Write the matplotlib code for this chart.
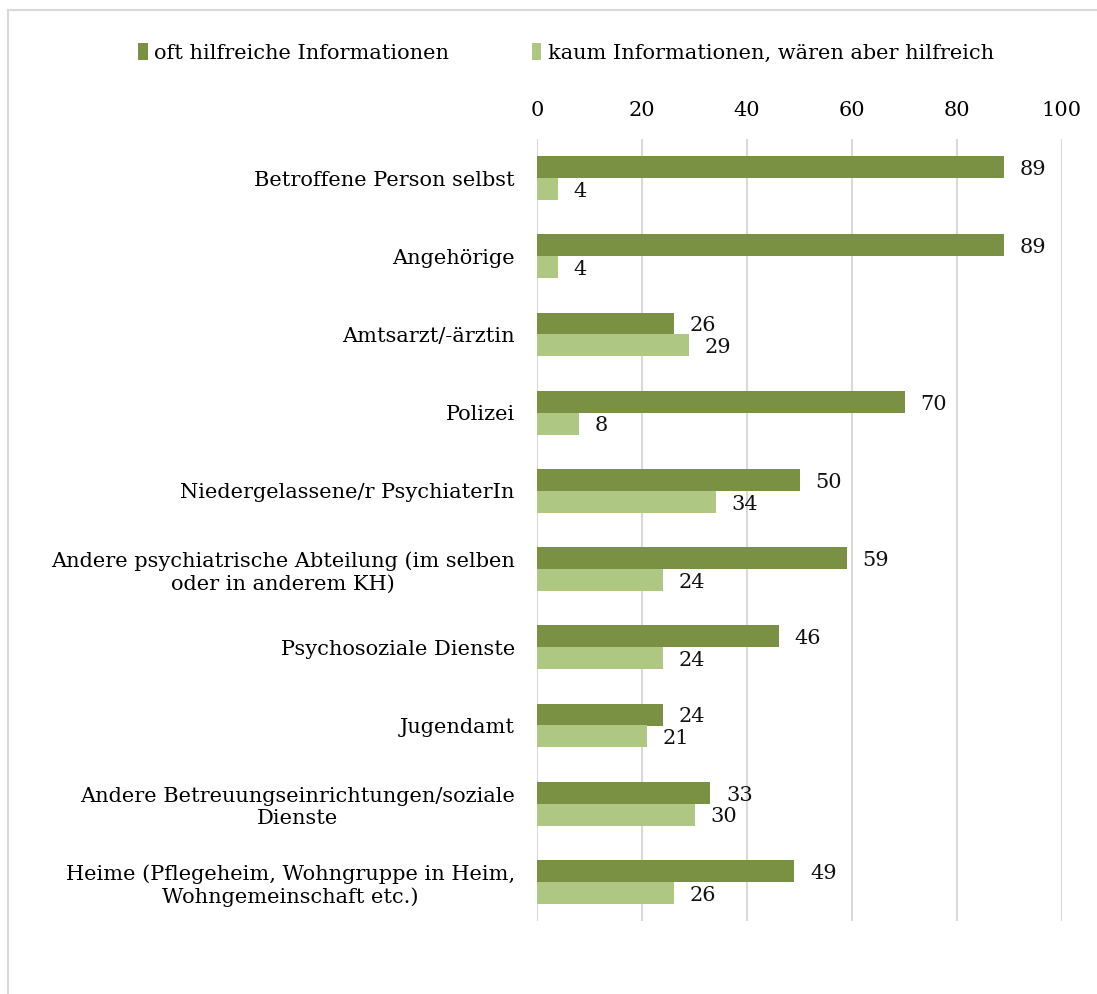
import matplotlib.pyplot as plt
from matplotlib.patches import Rectangle
import numpy as np

categories = [
    "Betroffene Person selbst",
    "Angehörige",
    "Amtsarzt/-ärztin",
    "Polizei",
    "Niedergelassene/r PsychiaterIn",
    "Andere psychiatrische Abteilung (im selben\noder in anderem KH)",
    "Psychosoziale Dienste",
    "Jugendamt",
    "Andere Betreuungseinrichtungen/soziale\nDienste",
    "Heime (Pflegeheim, Wohngruppe in Heim,\nWohngemeinschaft etc.)",
]
oft_hilfreich = [89, 89, 26, 70, 50, 59, 46, 24, 33, 49]
kaum_info = [4, 4, 29, 8, 34, 24, 24, 21, 30, 26]
series_names = ["oft hilfreiche Informationen", "kaum Informationen, wären aber hilfreich"]
xticks = [0, 20, 40, 60, 80, 100]

dark = "#7A9143"
light = "#AEC883"
grid = "#D9D9D9"

plt.rcParams['font.family'] = ['DejaVu Serif']
fs = 15

fig = plt.figure(figsize=(10.97, 9.94), dpi=100)
# outer chart border (left and top visible)
fig.add_artist(Rectangle((8 / 1097, -0.1), 1.2, 1 - 10 / 994 + 0.1, transform=fig.transFigure,
                         fill=False, edgecolor=grid, linewidth=1.5))

ax = fig.add_axes([537 / 1097, 73 / 994, 525 / 1097, 782 / 994])

y = np.arange(len(categories))
h = 0.28
ax.barh(y - h / 2, oft_hilfreich, height=h, color=dark, label=series_names[0], zorder=3)
ax.barh(y + h / 2, kaum_info, height=h, color=light, label=series_names[1], zorder=3)

for yi, v in zip(y, oft_hilfreich):
    ax.text(v + 3, yi - h / 2 + 0.03, str(v), va='center', ha='left', fontsize=fs, color='#111111')
for yi, v in zip(y, kaum_info):
    ax.text(v + 3, yi + h / 2 + 0.03, str(v), va='center', ha='left', fontsize=fs, color='#111111')

ax.set_xlim(0, 100)
ax.set_ylim(len(categories) - 0.5, -0.5)
ax.set_xticks(xticks)
ax.xaxis.tick_top()
ax.tick_params(axis='x', length=0, pad=14, labelsize=fs)
ax.set_yticks(y)
ax.set_yticklabels(categories, fontsize=fs, ha='right', multialignment='center', linespacing=1.25)
ax.tick_params(axis='y', length=0, pad=16)
ax.grid(axis='x', color=grid, linewidth=1.5, zorder=0)
for s in ax.spines.values():
    s.set_visible(False)

fig.legend(loc='center', bbox_to_anchor=(566 / 1097, 1 - 53 / 994), ncol=2, frameon=False,
           fontsize=fs, handlelength=0.45, handleheight=0.9, handletextpad=0.3, columnspacing=4.0)

fig.savefig("out.png", dpi=100)
